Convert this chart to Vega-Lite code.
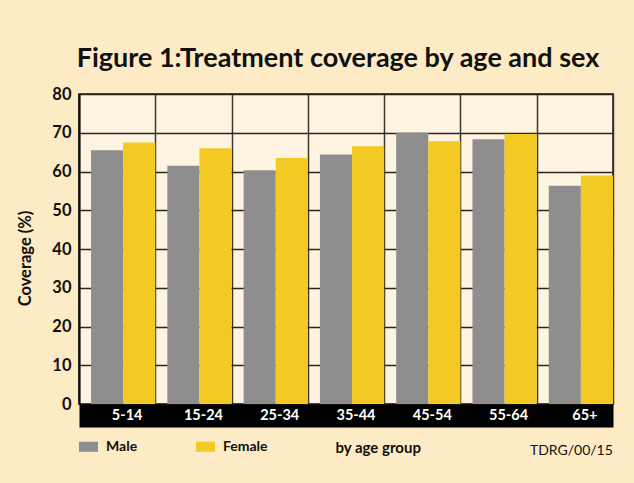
{
  "$schema": "https://vega.github.io/schema/vega-lite/v6.json",
  "width": 534,
  "height": 310,
  "autosize": {"type": "none"},
  "padding": {"left": 79, "top": 94, "right": 21, "bottom": 79},
  "background": "#fcebc4",
  "title": {
    "text": "Figure 1:Treatment coverage by age and sex",
    "font": "Lato",
    "fontSize": 27,
    "fontWeight": "bold",
    "color": "#111111",
    "anchor": "middle",
    "frame": "group",
    "offset": 13,
    "dx": -8
  },
  "config": {
    "font": "Lato",
    "view": {"fill": "#fff4e1", "stroke": "#111111", "strokeWidth": 1.5}
  },
  "resolve": {"axis": {"x": "independent", "y": "independent"}},
  "data": {
    "values": [
      {"age": "5-14", "sex": "Male", "value": 65.5},
      {"age": "5-14", "sex": "Female", "value": 67.5},
      {"age": "15-24", "sex": "Male", "value": 61.5},
      {"age": "15-24", "sex": "Female", "value": 66},
      {"age": "25-34", "sex": "Male", "value": 60.3},
      {"age": "25-34", "sex": "Female", "value": 63.5},
      {"age": "35-44", "sex": "Male", "value": 64.4},
      {"age": "35-44", "sex": "Female", "value": 66.5},
      {"age": "45-54", "sex": "Male", "value": 70},
      {"age": "45-54", "sex": "Female", "value": 67.8},
      {"age": "55-64", "sex": "Male", "value": 68.3},
      {"age": "55-64", "sex": "Female", "value": 69.7},
      {"age": "65+", "sex": "Male", "value": 56.3},
      {"age": "65+", "sex": "Female", "value": 59}
    ]
  },
  "layer": [
    {
      "mark": {"type": "bar"},
      "encoding": {
        "x": {
          "field": "age",
          "type": "nominal",
          "sort": null,
          "scale": {"paddingInner": 0, "paddingOuter": 0},
          "axis": {
            "orient": "bottom",
            "title": "by age group",
            "titleFont": "Lato",
            "titleFontSize": 15,
            "titleFontWeight": "bold",
            "titleColor": "#111111",
            "titleAnchor": "start",
            "titleAlign": "left",
            "titleBaseline": "middle",
            "titleX": 256,
            "titleY": 31.5,
            "labels": false,
            "ticks": false,
            "tickSize": 0,
            "domain": true,
            "domainColor": "#000000",
            "domainWidth": 23,
            "offset": 11.5,
            "grid": true,
            "tickBand": "extent",
            "gridColor": "#3b362e",
            "gridWidth": 1.5
          }
        },
        "xOffset": {
          "field": "sex",
          "type": "nominal",
          "sort": ["Male", "Female"],
          "scale": {"paddingInner": 0, "paddingOuter": 0.1875, "align": 1}
        },
        "y": {
          "field": "value",
          "type": "quantitative",
          "scale": {"domain": [0, 80], "nice": false},
          "axis": {
            "values": [0, 10, 20, 30, 40, 50, 60, 70, 80],
            "title": "Coverage (%)",
            "titleFont": "Lato",
            "titleFontSize": 16.5,
            "titleFontWeight": "bold",
            "titleColor": "#111111",
            "titleAngle": -90,
            "titleAlign": "center",
            "titleBaseline": "middle",
            "titleX": -54,
            "titleY": 164,
            "labelFont": "Lato",
            "labelFontSize": 16.5,
            "labelFontWeight": "bold",
            "labelColor": "#111111",
            "labelPadding": 8,
            "ticks": false,
            "domain": true,
            "domainColor": "#111111",
            "domainWidth": 2,
            "grid": true,
            "gridColor": "#2a2520",
            "gridWidth": 1.5
          }
        },
        "color": {
          "field": "sex",
          "type": "nominal",
          "scale": {"domain": ["Male", "Female"], "range": ["#8e8e8e", "#f3c923"]},
          "legend": {
            "orient": "none",
            "legendX": 0,
            "legendY": 343,
            "direction": "horizontal",
            "title": null,
            "symbolType": "M-1,-0.53H1V0.53H-1Z",
            "symbolSize": 361,
            "symbolStrokeWidth": 0,
            "labelFont": "Lato",
            "labelFontSize": 14,
            "labelFontWeight": "bold",
            "labelColor": "#111111",
            "labelOffset": 8,
            "columnPadding": 58
          }
        }
      }
    },
    {
      "transform": [{"filter": "datum.sex === 'Male'"}],
      "mark": {"type": "text", "align": "center", "baseline": "middle", "dx": 10, "font": "Lato", "fontSize": 14.5, "fontWeight": "bold", "color": "#ffffff"},
      "encoding": {
        "x": {"field": "age", "type": "nominal", "sort": null, "axis": null},
        "y": {"datum": -3, "type": "quantitative", "axis": null},
        "text": {"field": "age", "type": "nominal"}
      }
    },
    {
      "data": {"values": [{"note": "TDRG/00/15"}]},
      "mark": {"type": "text", "align": "right", "baseline": "middle", "dx": 38, "font": "Lato", "fontSize": 14, "color": "#111111"},
      "encoding": {
        "x": {"datum": "65+", "type": "nominal", "axis": null},
        "y": {"datum": -12, "type": "quantitative", "axis": null},
        "text": {"field": "note", "type": "nominal"}
      }
    }
  ]
}
